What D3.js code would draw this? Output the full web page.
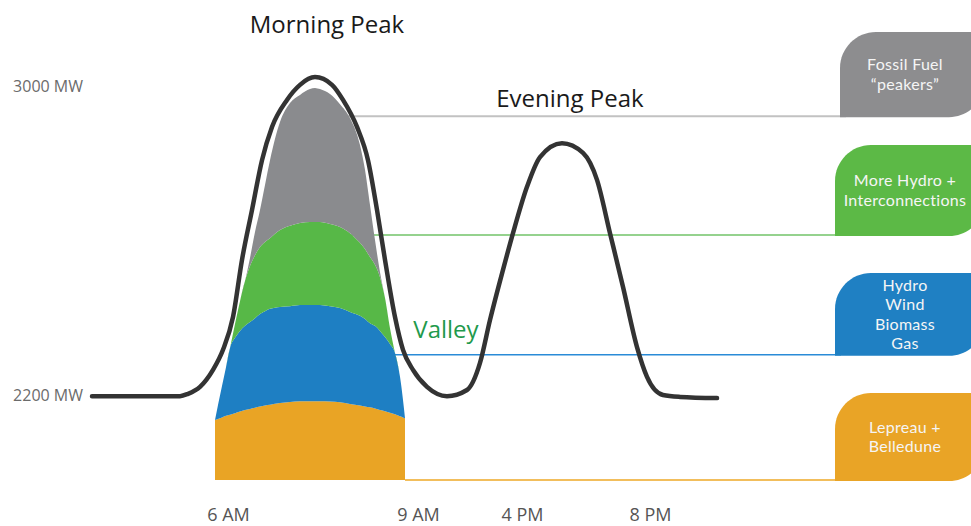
<!DOCTYPE html>
<html><head><meta charset="utf-8">
<script src="https://cdn.jsdelivr.net/npm/d3@7"></script>
<style>
body{margin:0;background:#fff}
svg{display:block}
text{font-family:"Open Sans",sans-serif}
</style>
</head><body>
<svg id="chart" width="971" height="526"></svg>
<script>
// ---------------- DATA ----------------
// Daily load curve (schematic time units, MW)
const loadT  = [0, 17.6, 19.2, 21.6, 24.2, 26.2, 28.2, 30, 32, 34, 36, 39, 41.6, 44.6, 48, 50.2, 53, 55.2, 57, 58.6, 60.6, 62.2, 64.2, 67, 71, 75, 77.6, 79.6, 82.2, 84.2, 87, 89.6, 94, 98.2, 101, 103.6, 106.2, 109, 111, 114.2, 117.6, 125];
const loadMW = [2197, 2197, 2203, 2221, 2265, 2317, 2402, 2550, 2679, 2808, 2894, 2964, 3003, 3023, 3003, 2964, 2894, 2808, 2679, 2550, 2402, 2317, 2265, 2221, 2197, 2213, 2283, 2394, 2524, 2619, 2739, 2816, 2852, 2827, 2757, 2619, 2480, 2324, 2247, 2200, 2195, 2192];

// Morning peak supply stack: cumulative top of each supply layer (MW)
const stackT = [24.6, 25.2, 26, 26.8, 27.6, 28.6, 29.6, 30.6, 31.6, 32.6, 33.6, 34.6, 35.6, 37.6, 39.6, 41.6, 43.6, 44.6, 45.6, 47.6, 49.6, 51.6, 53.6, 54.6, 55.6, 56.6, 57.6, 58.6, 59.6, 60.6, 61.6, 62.2, 62.6];
const baseMW = 1980;
const orangeTop = [2135, 2138, 2142, 2146, 2149, 2153, 2157, 2161, 2164, 2167, 2170, 2173, 2175, 2179, 2182, 2184, 2184, 2184, 2184, 2183, 2181, 2177, 2173, 2170, 2168, 2165, 2161, 2158, 2154, 2150, 2145, 2142, 2140];
const blueTop   = [2135, 2174, 2223, 2272, 2322, 2348, 2366, 2379, 2389, 2399, 2410, 2417, 2423, 2428, 2430, 2433, 2433, 2433, 2433, 2430, 2425, 2415, 2405, 2397, 2386, 2379, 2366, 2350, 2332, 2309, 2247, 2187, 2140];
const greenTop  = [2135, 2174, 2223, 2272, 2322, 2384, 2443, 2495, 2534, 2562, 2583, 2596, 2606, 2627, 2638, 2645, 2648, 2648, 2648, 2643, 2635, 2619, 2594, 2578, 2557, 2537, 2505, 2451, 2373, 2309, 2247, 2187, 2140];
const grayTop   = [2135, 2174, 2223, 2272, 2322, 2384, 2443, 2495, 2555, 2622, 2679, 2744, 2808, 2907, 2956, 2977, 2992, 2995, 2992, 2979, 2953, 2917, 2847, 2783, 2692, 2601, 2518, 2451, 2373, 2309, 2247, 2187, 2140];

// Supply categories (top to bottom) and their connector levels
const categories = ["Fossil Fuel “peakers”", "More Hydro + Interconnections", "Hydro Wind Biomass Gas", "Lepreau + Belledune"];
const boxLabels = [["Fossil Fuel", "“peakers”"], ["More Hydro +", "Interconnections"], ["Hydro", "Wind", "Biomass", "Gas"], ["Lepreau +", "Belledune"]];
const levelMW = [2922, 2614, 2304, 1980];
const levelStartT = [50, 51.6, 60.6, 62.6];

// Axis ticks
const yTicks = [2200, 3000];
const xTickT = [27.2, 65.2, 86, 111.6];
const xTickLabels = ["6 AM", "9 AM", "4 PM", "8 PM"];

// ---------------- STYLE / LAYOUT ----------------
const fillColors = ["#8a8b8e", "#57b847", "#1e7fc3", "#e9a425"];
const boxColors  = ["#8d8d8f", "#5cb946", "#1f80c3", "#e9a426"];
const lineColors = ["#c2c2c2", "#95d28e", "#2a8bd7", "#f2be5c"];
const lineWidths = [2, 2, 1.5, 2];
const boxTop  = [32, 145, 273, 393];
const boxLeft = [840, 835, 835, 835];

const svg = d3.select("#chart");
const x = d3.scaleLinear().domain([0, 125]).range([92, 717]);
const y = d3.scaleLinear().domain([2200, 3000]).range([395, 86]);

// connector lines
const gLines = svg.append("g");
levelMW.forEach((mw, i) => {
  gLines.append("line")
    .attr("x1", x(levelStartT[i])).attr("x2", boxLeft[i] + 6)
    .attr("y1", y(mw)).attr("y2", y(mw))
    .attr("stroke", lineColors[i]).attr("stroke-width", lineWidths[i]);
});

// stacked supply layers (bottom to top)
const tops = [orangeTop, blueTop, greenTop, grayTop];
const layerCols = [fillColors[3], fillColors[2], fillColors[1], fillColors[0]];
tops.forEach((top, k) => {
  const lower = k === 0 ? stackT.map(() => baseMW) : tops[k - 1];
  const area = d3.area()
    .x((d, i) => x(stackT[i]))
    .y0((d, i) => y(lower[i]))
    .y1((d, i) => y(top[i]))
    .curve(d3.curveMonotoneX);
  svg.append("path").datum(stackT).attr("d", area).attr("fill", layerCols[k]);
});

// load curve
const line = d3.line().x((d, i) => x(loadT[i])).y((d, i) => y(loadMW[i])).curve(d3.curveMonotoneX);
svg.append("path").datum(loadT).attr("d", line)
  .attr("fill", "none").attr("stroke", "#333333").attr("stroke-width", 4.5)
  .attr("stroke-linecap", "round").attr("stroke-linejoin", "round");

// legend boxes
function leaf(x0, y0, x1, y1, r1, r2) {
  const p = d3.path();
  p.moveTo(x0, y1);
  p.lineTo(x0, y0 + r1);
  p.bezierCurveTo(x0, y0 + r1 * 0.45, x0 + r1 * 0.45, y0, x0 + r1, y0);
  p.lineTo(x1, y0);
  p.lineTo(x1, y1 - r2);
  p.bezierCurveTo(x1, y1 - r2 * 0.45, x1 - r2 * 0.45, y1, x1 - r2, y1);
  p.closePath();
  return p.toString();
}
categories.forEach((c, i) => {
  const yb = y(levelMW[i]) + 1;
  svg.append("path").attr("d", leaf(boxLeft[i], boxTop[i], 985, yb, 36, 36)).attr("fill", boxColors[i]);
  const lines = boxLabels[i];
  const cy = (boxTop[i] + yb) / 2;
  const lh = 19.2;
  lines.forEach((s, j) => {
    svg.append("text").attr("text-anchor", "middle").attr("fill", "#f5f5f5")
      .attr("font-size", 16).style("font-family", "Lato, sans-serif").style("letter-spacing", "0.3px")
      .attr("x", 905).attr("y", cy + (j - (lines.length - 1) / 2) * lh + 5.5).text(s);
  });
});

// annotations
svg.append("text").attr("x", 327).attr("y", 33).attr("text-anchor", "middle")
  .attr("font-size", 24).attr("fill", "#1a1a1a").text("Morning Peak");
svg.append("text").attr("x", 570).attr("y", 107).attr("text-anchor", "middle")
  .attr("font-size", 24).attr("fill", "#1a1a1a").text("Evening Peak");
svg.append("text").attr("x", 446).attr("y", 338).attr("text-anchor", "middle")
  .attr("font-size", 24).attr("fill", "#1f9a4c").text("Valley");

// axes
const yAxis = d3.axisLeft(y).tickValues(yTicks).tickFormat(d => d + " MW").tickSize(0).tickPadding(0);
const gy = svg.append("g").attr("transform", "translate(83,0)").call(yAxis);
gy.select(".domain").remove();
gy.selectAll("text").attr("font-size", 16).attr("fill", "#6b6b6b").style("font-family", "'Open Sans',sans-serif");

const xAxis = d3.axisBottom(x).tickValues(xTickT).tickFormat((d, i) => xTickLabels[i]).tickSize(0).tickPadding(0);
const gx = svg.append("g").attr("transform", "translate(0,508)").call(xAxis);
gx.select(".domain").remove();
gx.selectAll("text").attr("font-size", 18).attr("fill", "#555").style("font-family", "'Open Sans',sans-serif");
</script>
</body></html>
